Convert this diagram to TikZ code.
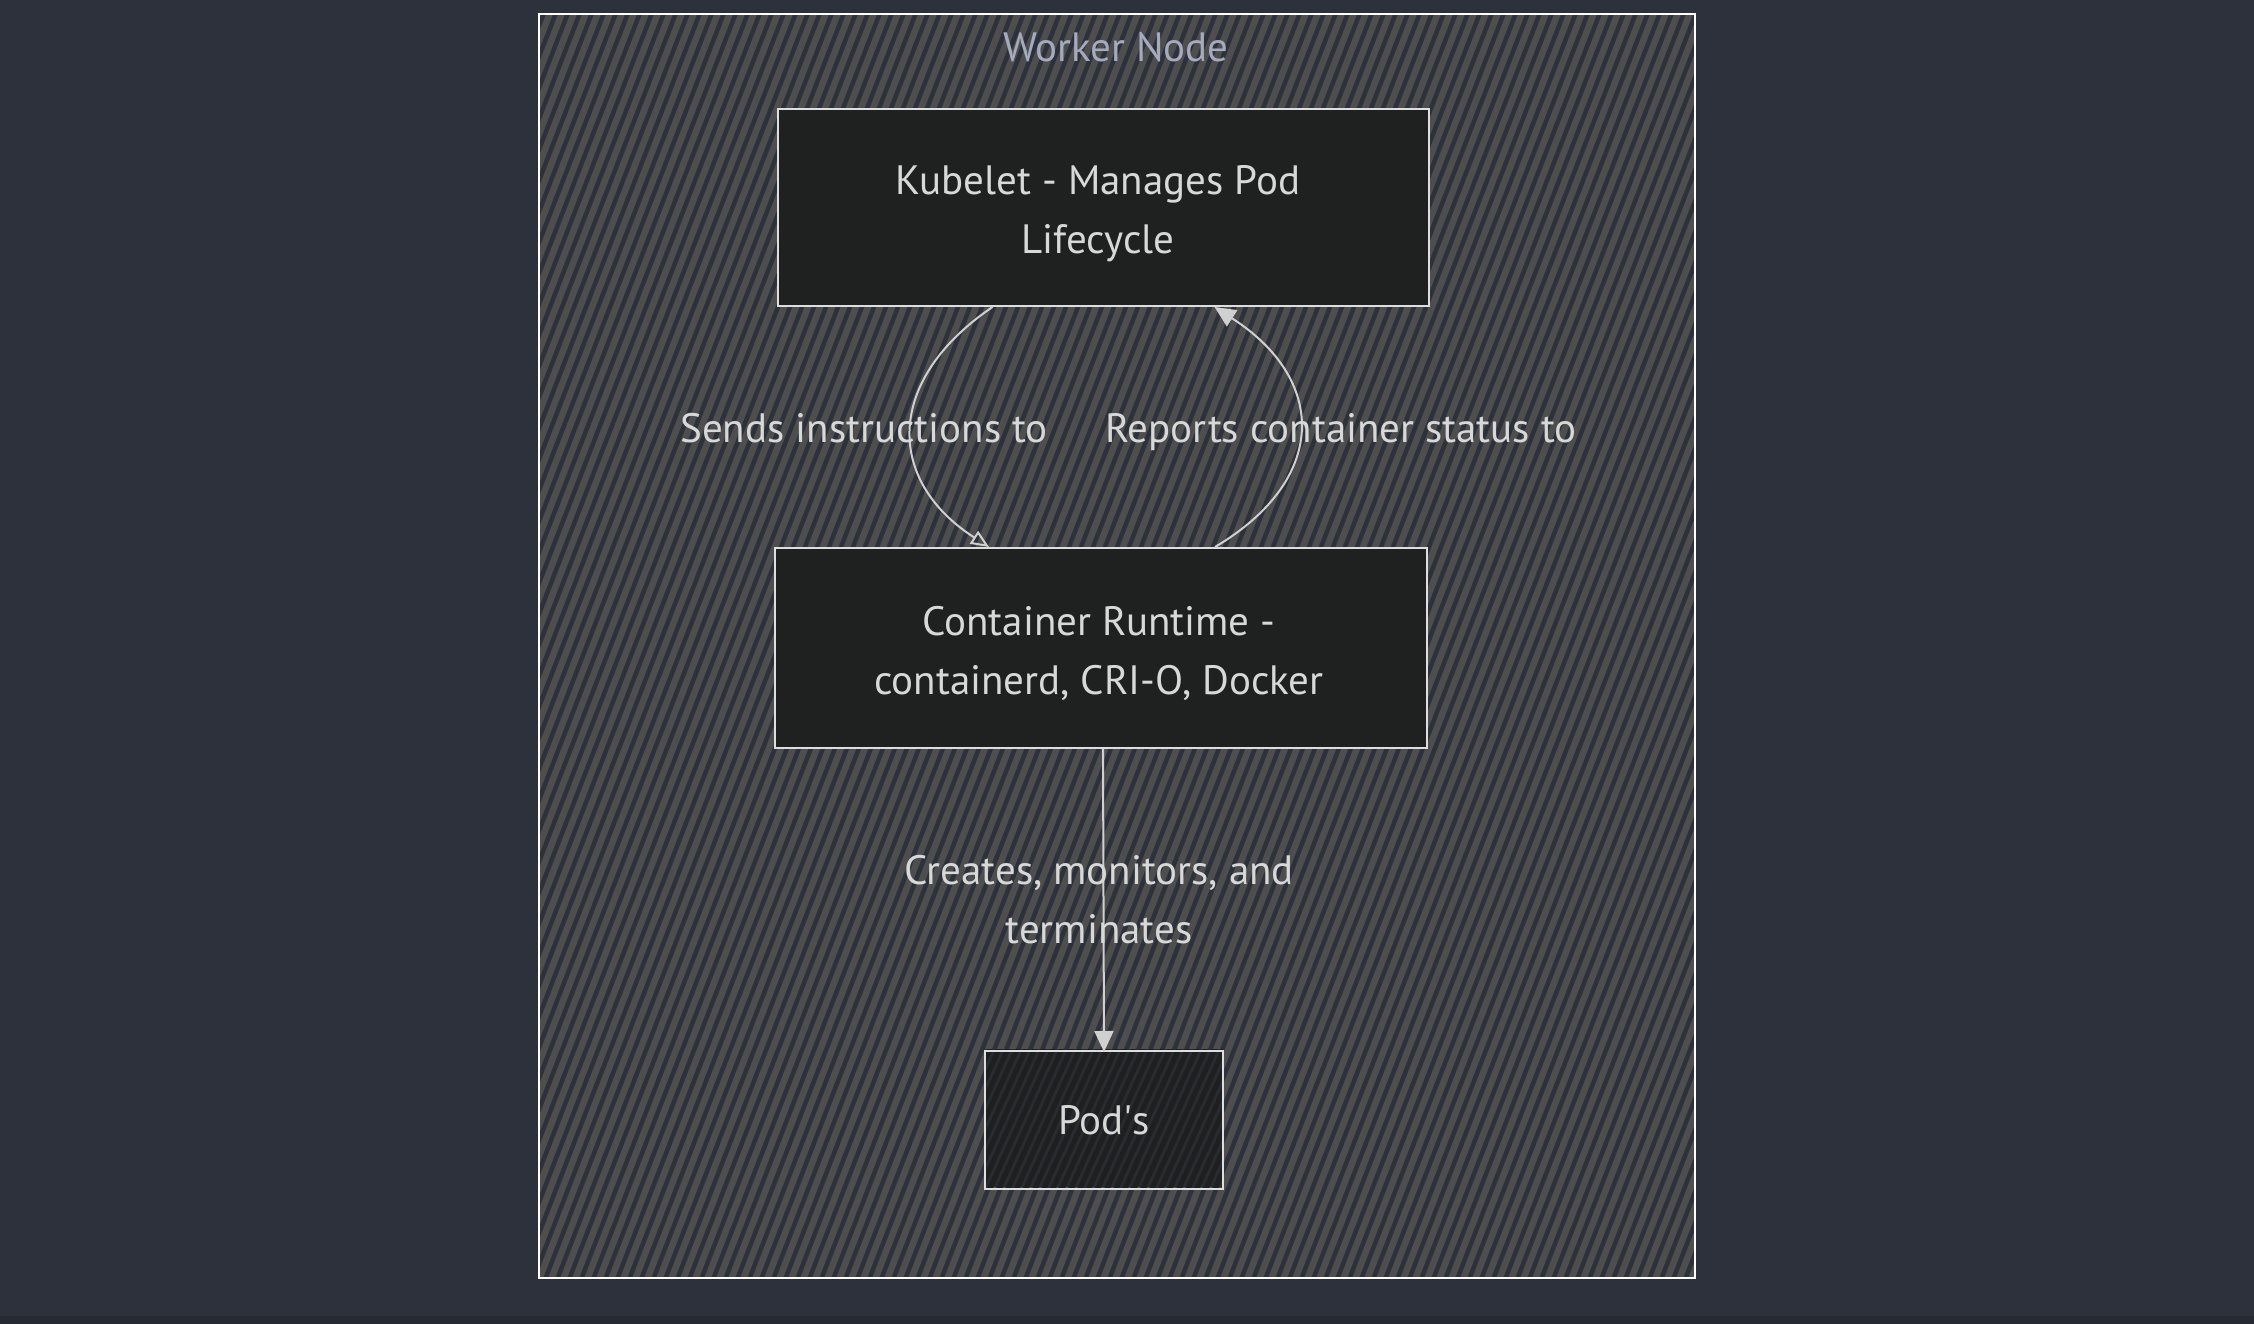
\documentclass[tikz,border=0pt]{standalone}
\usepackage{fontspec}
\setmainfont{PT Sans}
\usetikzlibrary{arrows.meta}
\definecolor{bgc}{RGB}{45,49,60}
\definecolor{bgdark}{RGB}{38,42,51}
\definecolor{hatchc}{RGB}{78,78,78}
\definecolor{boxfill}{RGB}{31,32,32}
\definecolor{podhatch}{RGB}{30,31,31}
\definecolor{podfill}{RGB}{40,43,50}
\definecolor{txtc}{RGB}{216,216,216}
\definecolor{titlec}{RGB}{165,170,189}
\definecolor{linec}{RGB}{222,222,222}
\definecolor{edgec}{RGB}{208,208,208}
\tikzset{
  box/.style={draw=linec, line width=2pt, fill=boxfill, text=txtc, align=center,
    font=\fontsize{41}{59}\selectfont, inner sep=0pt},
  lbl/.style={text=txtc, align=center, font=\fontsize{41}{59}\selectfont, inner sep=0pt},
  edge/.style={draw=edgec, line width=2pt, -{Triangle[length=21pt,width=19pt]}},
  openedge/.style={draw=edgec, line width=2pt, -{Triangle[open,length=18pt,width=15pt]}},
}
\begin{document}
\begin{tikzpicture}[x=1pt,y=-1pt]
\useasboundingbox (0,0) rectangle (2254,1324);
\fill[bgc] (0,0) rectangle (2254,1324);
\fill[bgdark] (0,1316) rectangle (2254,1324);
% outer worker node group with hatching
\begin{scope}
  \clip (539,14) rectangle (1695,1278);
  \foreach \x in {-520,-508,...,1170} {
    \draw[hatchc, line width=6.5pt] (539+\x,1290) -- (539+\x+500,0);
  }
\end{scope}
\node[draw=white, line width=2.5pt, minimum width=1156pt, minimum height=1264pt, inner sep=0pt] (worker) at (1117,646) {};
\node[text=titlec, font=\fontsize{41}{46}\selectfont, inner sep=0pt] (title) at (1116,47) {Worker Node};
% kubelet
\node[box, minimum width=651pt, minimum height=197pt] (kub) at (1103.5,207.5) {};
\node[box, draw=none, fill=none] (kubt) at (1098,214) {Kubelet - Manages Pod\\Lifecycle};
% container runtime
\node[box, minimum width=652pt, minimum height=200pt] (crt) at (1101,648) {};
\node[box, draw=none, fill=none] (crtt) at (1099,653) {Container Runtime -\\containerd, CRI-O, Docker};
% pods with hatching
\fill[podfill] (985,1049) rectangle (1223,1187);
\begin{scope}
  \clip (985,1049) rectangle (1223,1187);
  \foreach \x in {-70,-61,...,240} {
    \draw[podhatch, line width=5pt] (985+\x,1195) -- (985+\x+70,1040);
  }
\end{scope}
\node[draw=linec, line width=2pt, text=txtc, font=\fontsize{41}{46}\selectfont, minimum width=238pt, minimum height=138pt, inner sep=0pt] (pod) at (1104,1120) {Pod\textquotesingle s};
% edges
\draw[openedge] ([xshift=-111pt]kub.south) .. controls (885,380) and (885,480) .. ([xshift=-112pt]crt.north);
\draw[edge] ([xshift=114pt]crt.north) .. controls (1328,480) and (1328,380) .. ([xshift=111pt]kub.south);
\draw[edge] ([xshift=2pt]crt.south) -- ([yshift=-2pt]pod.north);
% edge labels
\node[lbl, text height=30pt, text depth=9pt] (l1) at (864,432) {Sends instructions to};
\node[lbl, text height=30pt, text depth=9pt] (l2) at (1341,432) {Reports container status to};
\node[lbl] (l3) at (1099,900) {Creates, monitors, and\\terminates};
\end{tikzpicture}
\end{document}
